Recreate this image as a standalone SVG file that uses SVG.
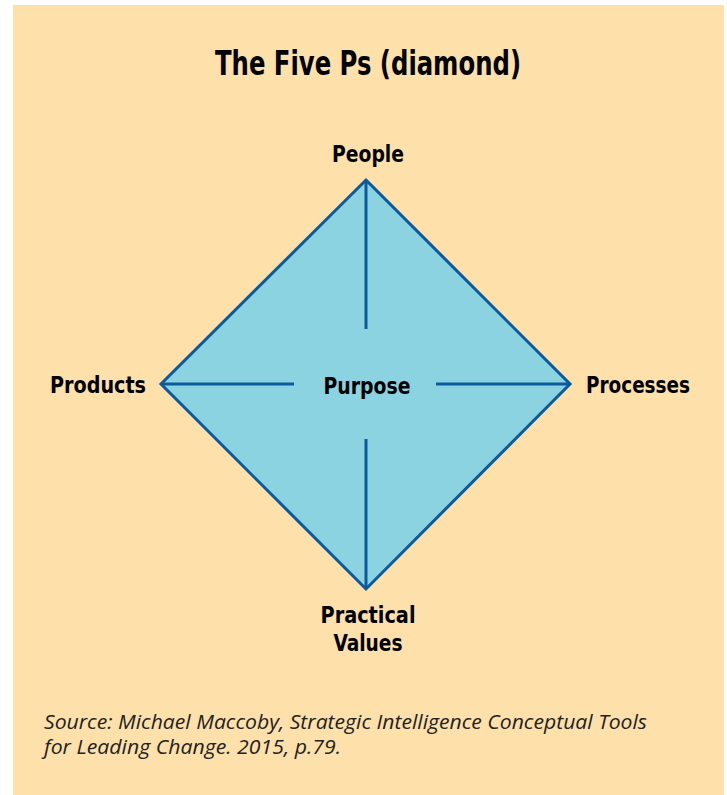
<svg xmlns="http://www.w3.org/2000/svg" width="727" height="795" viewBox="0 0 727 795">
<style>
.lbl{font-family:"DejaVu Sans Condensed","DejaVu Sans",sans-serif;font-weight:bold;font-size:23px;fill:#000;text-anchor:middle}
.ttl{font-family:"DejaVu Sans Condensed","DejaVu Sans",sans-serif;font-weight:bold;font-size:34px;fill:#000;text-anchor:middle}
.src{font-family:"Open Sans","DejaVu Sans",sans-serif;font-style:italic;font-size:20px;fill:#222}
.ln{stroke:#0b5a9e;stroke-width:3;fill:none}
</style>
<rect x="0" y="0" width="727" height="795" fill="#fff"/>
<rect x="13" y="5" width="711" height="790" fill="#fee0ab"/>
<text class="ttl" x="368" y="75" textLength="306" lengthAdjust="spacingAndGlyphs">The Five Ps (diamond)</text>
<g id="diamond">
<polygon points="366,180 570,384 366,589 161,384" fill="#8bd3e0" stroke="#0b5a9e" stroke-width="3" stroke-linejoin="miter"/>
</g>
<g id="connectors">
<line class="ln" x1="366" y1="180" x2="366" y2="329"/>
<line class="ln" x1="366" y1="439" x2="366" y2="589"/>
<line class="ln" x1="161" y1="384" x2="294" y2="384"/>
<line class="ln" x1="436" y1="384" x2="570" y2="384"/>
</g>
<g id="people"><text class="lbl" x="368" y="162" textLength="72" lengthAdjust="spacingAndGlyphs">People</text></g>
<g id="products"><text class="lbl" x="98" y="393" textLength="96" lengthAdjust="spacingAndGlyphs">Products</text></g>
<g id="purpose"><text class="lbl" x="367" y="394" textLength="87" lengthAdjust="spacingAndGlyphs">Purpose</text></g>
<g id="processes"><text class="lbl" x="638" y="393" textLength="104" lengthAdjust="spacingAndGlyphs">Processes</text></g>
<g id="practical-values"><text class="lbl" x="368" y="623" textLength="95" lengthAdjust="spacingAndGlyphs">Practical</text><text class="lbl" x="368" y="651" textLength="69" lengthAdjust="spacingAndGlyphs">Values</text></g>
<text class="src" x="44" y="729" textLength="603" lengthAdjust="spacingAndGlyphs">Source: Michael Maccoby, Strategic Intelligence Conceptual Tools</text>
<text class="src" x="44" y="754" textLength="297" lengthAdjust="spacingAndGlyphs">for Leading Change. 2015, p.79.</text>
</svg>
